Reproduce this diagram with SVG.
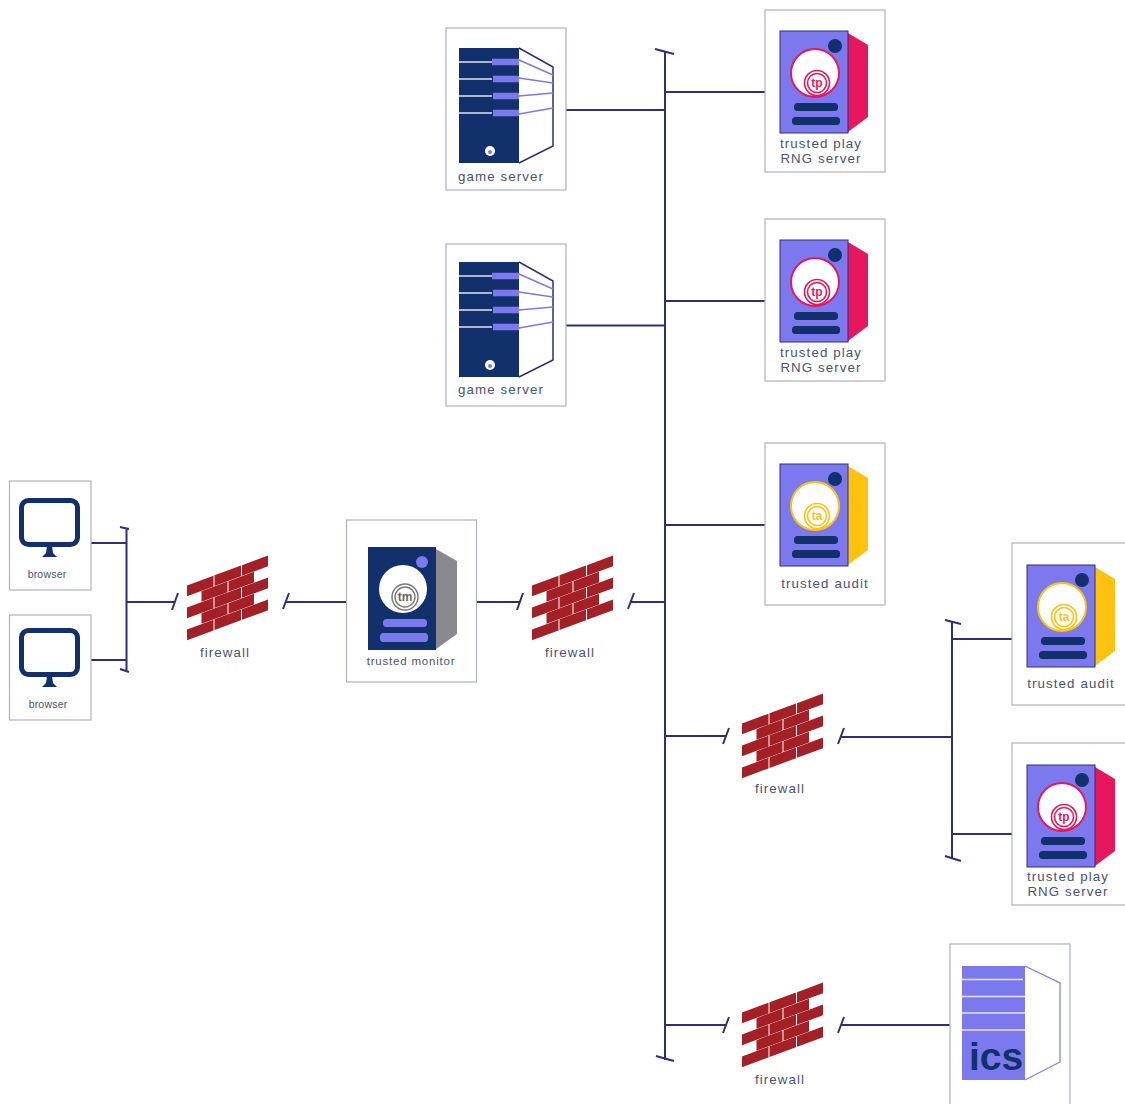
<svg xmlns="http://www.w3.org/2000/svg" width="1125" height="1104" viewBox="0 0 1125 1104">
<style>
text{font-family:"Liberation Sans","Noto Sans",Arial,sans-serif;fill:#4b5272;text-anchor:middle;font-size:13.300px;letter-spacing:1.100px}
.box{fill:#fff;stroke:#aeb2c0;stroke-width:1.2}
.c{stroke:#2f2f78;stroke-width:2;fill:none}
.brick{fill:#a32126}
.lg{font-size:12px;letter-spacing:0;font-weight:700}
.sm{font-size:10.500px;letter-spacing:.2px}
</style>
<defs>
<g id="tower">
<path d="M68 2L88 14V86L68 101Z" fill="currentColor"/>
<rect x="0" y="0" width="68" height="102" fill="#7c79ef" stroke="#2b2f80" stroke-width="1"/>
<circle cx="35" cy="42" r="24" fill="#fff" stroke="currentColor" stroke-width="2"/>
<circle cx="37" cy="52" r="12.500" fill="none" stroke="currentColor" stroke-width="1.600"/>
<circle cx="37" cy="52" r="9.500" fill="none" stroke="currentColor" stroke-width="1.600"/>
<circle cx="55" cy="15" r="7" fill="#12306b"/>
<rect x="14" y="72" width="44" height="8" rx="3.500" fill="#12306b"/>
<rect x="12" y="86" width="48" height="8" rx="3.500" fill="#12306b"/>
</g>
<g id="gameserver">
<path d="M60 0L94 19V98L60 115" fill="#fff" stroke="#2b2f80" stroke-width="1.500"/>
<rect width="60" height="115" fill="#12306b"/>
<path d="M0 14H33M0 31H33M0 48H33M0 65H33" stroke="#dfe4f2" stroke-width="1.500"/>
<path d="M33 14H60M34 31H60M34 48H60M34 65H60" stroke="#7c79ef" stroke-width="6.500"/>
<path d="M60 12L94 27M60 30L94 35M60 48L94 45M60 66L94 60" stroke="#7c79ef" stroke-width="1.500"/>
<circle cx="31" cy="103" r="5" fill="#fff"/>
<circle cx="31" cy="104" r="2" fill="#7c79ef"/>
</g>
<g id="wall">
<g class="brick">
<rect x="0" y="0" width="26.500" height="10.700"/><rect x="27.500" y="0" width="26.500" height="10.700"/><rect x="55" y="0" width="26" height="10.700"/>
<rect x="14.500" y="11" width="26" height="10.700"/><rect x="41.500" y="11" width="25.500" height="10.700"/>
<rect x="0" y="22" width="26.500" height="10.700"/><rect x="27.500" y="22" width="26.500" height="10.700"/><rect x="55" y="22" width="26" height="10.700"/>
<rect x="14.500" y="33" width="26" height="10.700"/><rect x="41.500" y="33" width="25.500" height="10.700"/>
<rect x="0" y="44" width="26.500" height="10.700"/><rect x="27.500" y="44" width="26.500" height="10.700"/><rect x="55" y="44" width="26" height="10.700"/>
</g>
</g>
<g id="screen">
<rect x="21.500" y="2.500" width="56" height="44" rx="7" fill="#fff" stroke="#12306b" stroke-width="5"/>
<path d="M47 48H52L53 55L57 59H42L46 55Z" fill="#12306b"/>
</g>
</defs>
<rect width="1125" height="1104" fill="#fff"/>
<g id="connectors" class="c">
<path d="M665 52V1060M655 49L674 54M656 1056L674 1061"/>
<path d="M566 110H665M665 92H765M566 325.500H665M665 301H765M665 525H765"/>
<path d="M126.500 528V671M120 527L129 529M120 669L129 672M91 543H126.500M91 660H126.500M126.500 602H175M172 610L178 593M283 609L289 593M286 602H346"/>
<path d="M476 602H520M517 610L523 593M628 609L634 593M631 602H665"/>
<path d="M665 736H726M723 744L729 728M838 744L844 728M841 737H952M952 621V859M945 620L961 624M945 856L961 861M952 639H1012M952 834H1012"/>
<path d="M665 1025H726M723 1033L729 1017M838 1033L844 1017M841 1025H950"/>
</g>
<g id="game-server-1"><rect class="box" x="446" y="28" width="120" height="162"/><use href="#gameserver" x="459" y="48"/><text x="501" y="181">game server</text></g>
<g id="game-server-2"><rect class="box" x="446" y="244" width="120" height="162"/><use href="#gameserver" x="459" y="262"/><text x="501" y="394">game server</text></g>
<g id="rng-server-1"><rect class="box" x="765" y="10" width="120" height="162"/><use href="#tower" x="780" y="31" color="#e8175d"/><text class="lg" x="817" y="87" style="fill:#e8175d">tp</text><text x="821" y="148">trusted play</text><text x="821" y="163">RNG server</text></g>
<g id="rng-server-2"><rect class="box" x="765" y="219" width="120" height="162"/><use href="#tower" x="780" y="240" color="#e8175d"/><text class="lg" x="817" y="296" style="fill:#e8175d">tp</text><text x="821" y="357">trusted play</text><text x="821" y="372">RNG server</text></g>
<g id="trusted-audit-1"><rect class="box" x="765" y="443" width="120" height="162"/><use href="#tower" x="780" y="464" color="#ffc20e"/><text class="lg" x="817" y="520" style="fill:#ffc20e">ta</text><text x="825" y="588">trusted audit</text></g>
<g id="trusted-audit-2"><rect class="box" x="1012" y="543" width="120" height="162"/><use href="#tower" x="1027" y="565" color="#ffc20e"/><text class="lg" x="1064" y="621" style="fill:#ffc20e">ta</text><text x="1071" y="688">trusted audit</text></g>
<g id="rng-server-3"><rect class="box" x="1012" y="743" width="120" height="162"/><use href="#tower" x="1027" y="765" color="#e8175d"/><text class="lg" x="1064" y="821" style="fill:#e8175d">tp</text><text x="1068" y="881">trusted play</text><text x="1068" y="896">RNG server</text></g>
<g id="trusted-monitor"><rect class="box" x="346.500" y="520" width="130" height="162"/>
<path d="M436 549L457 561V634L436 649Z" fill="#8a8a8e"/>
<rect x="368" y="547" width="68" height="103" fill="#12306b"/>
<circle cx="403" cy="589" r="24" fill="#fff"/>
<circle cx="405" cy="597" r="13" fill="none" stroke="#777" stroke-width="1.400"/><circle cx="405" cy="597" r="10" fill="none" stroke="#777" stroke-width="1.400"/>
<circle cx="422" cy="562" r="6" fill="#7c79ef"/>
<rect x="383" y="619" width="44" height="8" rx="3.500" fill="#7c79ef"/><rect x="380" y="633" width="48" height="9" rx="3.500" fill="#7c79ef"/>
<text class="lg" x="405" y="601" style="fill:#666">tm</text>
<text x="411" y="665" style="font-size:11.500px;letter-spacing:.8px">trusted monitor</text></g>
<g id="browser-1"><rect class="box" x="9.500" y="481" width="81.500" height="109"/><use href="#screen" x="0" y="498"/><text class="sm" x="47" y="578">browser</text></g>
<g id="browser-2"><rect class="box" x="9.500" y="615" width="81.500" height="105"/><use href="#screen" x="0" y="628"/><text class="sm" x="48" y="708">browser</text></g>
<g id="firewall-1"><use href="#wall" transform="translate(187 585.500) skewY(-20.300)"/><text x="225" y="657">firewall</text></g>
<g id="firewall-2"><use href="#wall" transform="translate(532 585.500) skewY(-20.300)"/><text x="570" y="657">firewall</text></g>
<g id="firewall-3"><use href="#wall" transform="translate(742 723.500) skewY(-20.300)"/><text x="780" y="793">firewall</text></g>
<g id="firewall-4"><use href="#wall" transform="translate(742 1012.500) skewY(-20.300)"/><text x="780" y="1084">firewall</text></g>
<g id="ics"><rect class="box" x="950" y="944" width="120" height="170"/>
<path d="M1025 966L1060 983V1062L1025 1080" fill="#fff" stroke="#7c79ef" stroke-width="1.200"/>
<rect x="962" y="966" width="63" height="114" fill="#7c79ef"/>
<path d="M962 979.500H1023M962 996.500H1025M962 1013H1025M962 1030H1025" stroke="#e4e4fb" stroke-width="1.500"/>
<text x="996" y="1070" style="font-size:39px;font-weight:700;fill:#12306b;letter-spacing:0">ics</text></g>
</svg>
